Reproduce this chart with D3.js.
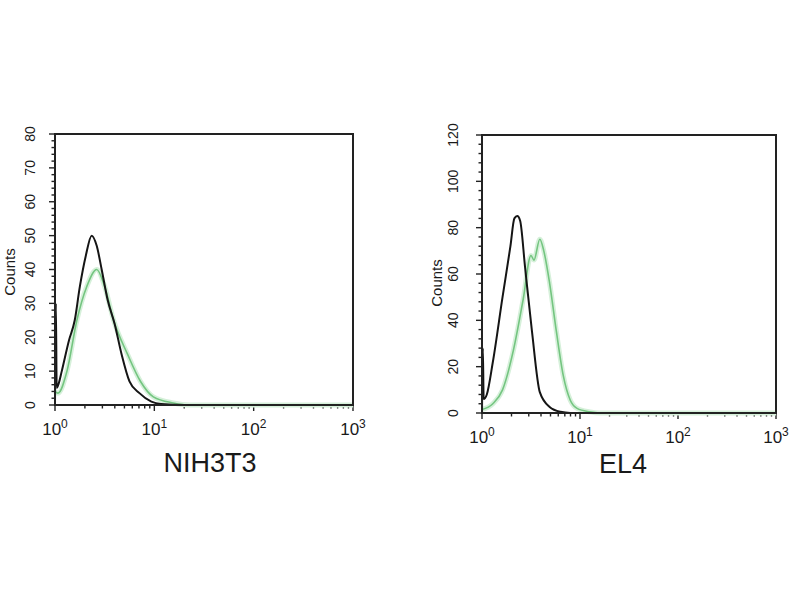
<!DOCTYPE html>
<html>
<head>
<meta charset="utf-8">
<script src="https://cdn.jsdelivr.net/npm/d3@7"></script>
<style>
  body { margin: 0; background: #fff; }
  svg { display: block; }
  text { font-family: "Liberation Sans", Arial, sans-serif; fill: #1a1a1a; }
</style>
</head>
<body>
<svg id="chart" width="800" height="600"></svg>
<script>
// ---- Data ----
const panelTitles = ["NIH3T3", "EL4"];
const xTickExponents = [0, 1, 2, 3];
const yMaxes = [80, 120];
const yTickSteps = [10, 20];
const yMinorSteps = [2, 4];

// NIH3T3 – isotype control (black)
const nihControlX = [1.0, 1.02, 1.04, 1.08, 1.17, 1.38, 1.58, 1.78, 2.04, 2.34, 2.63, 2.95, 3.39, 3.98, 4.68, 5.62, 7.08, 9.33, 11.7, 20, 1000];
const nihControlY = [0, 30, 5, 6, 10, 19, 25, 35, 44, 50, 47, 40, 31, 24, 15, 7, 3.5, 1, 0.3, 0, 0];
// NIH3T3 – antibody (green)
const nihStainX = [1.0, 1.07, 1.32, 1.66, 2.09, 2.63, 3.16, 3.89, 5.37, 7.24, 9.77, 15.5, 22.9, 1000];
const nihStainY = [4, 3.5, 10, 25, 35, 40, 35, 25, 15, 7, 2.4, 0.6, 0, 0];

// EL4 – isotype control (black)
const el4ControlX = [1.0, 1.02, 1.04, 1.12, 1.29, 1.62, 1.95, 2.14, 2.29, 2.45, 2.75, 3.24, 3.89, 4.9, 6.31, 7.94, 1000];
const el4ControlY = [0, 28, 6, 8, 22, 50, 72, 84, 85, 83, 63, 35, 9, 2.6, 0.5, 0, 0];
// EL4 – antibody (green)
const el4StainX = [1.0, 1.29, 1.62, 2.09, 2.63, 3.16, 3.39, 3.89, 4.27, 4.9, 5.75, 6.76, 7.94, 9.33, 12.6, 15.8, 1000];
const el4StainY = [1.5, 4, 10, 27, 49, 68, 66, 75, 70, 56, 35, 16, 5.6, 2, 0.5, 0, 0];

const panels = [
  { title: panelTitles[0], yMax: yMaxes[0], step: yTickSteps[0], minor: yMinorSteps[0],
    control: nihControlX.map((x, i) => [x, nihControlY[i]]),
    stain: nihStainX.map((x, i) => [x, nihStainY[i]]),
    box: { x0: 55, x1: 353, y0: 134, y1: 405 }, yLabelX: 30, countsX: 10, countsY: 272, titleX: 210, titleY: 472 },
  { title: panelTitles[1], yMax: yMaxes[1], step: yTickSteps[1], minor: yMinorSteps[1],
    control: el4ControlX.map((x, i) => [x, el4ControlY[i]]),
    stain: el4StainX.map((x, i) => [x, el4StainY[i]]),
    box: { x0: 482, x1: 776, y0: 135, y1: 413 }, yLabelX: 453, countsX: 437, countsY: 283, titleX: 623, titleY: 473 }
];

const svg = d3.select("#chart");

panels.forEach(p => {
  const b = p.box;
  const x = d3.scaleLog().domain([1, 1000]).range([b.x0, b.x1]);
  const y = d3.scaleLinear().domain([0, p.yMax]).range([b.y1, b.y0]);
  const g = svg.append("g");

  // y minor ticks
  const yMinor = d3.range(0, p.yMax + 0.001, p.minor);
  g.append("g").selectAll("line").data(yMinor).join("line")
    .attr("x1", b.x0).attr("x2", d => b.x0 - ((d % p.step === 0) ? 6 : 3.5))
    .attr("y1", d => y(d)).attr("y2", d => y(d))
    .attr("stroke", "#222").attr("stroke-width", 1.4);

  // y axis labels (rotated)
  const yTicks = d3.range(0, p.yMax + 0.001, p.step);
  g.append("g").selectAll("text").data(yTicks).join("text")
    .attr("transform", d => `translate(${p.yLabelX},${y(d)}) rotate(-90)`)
    .attr("text-anchor", "middle").attr("dy", "0.35em")
    .style("font-size", "14px")
    .text(d => d);

  // "Counts"
  g.append("text")
    .attr("transform", `translate(${p.countsX},${p.countsY}) rotate(-90)`)
    .attr("text-anchor", "middle").attr("dy", "0.35em")
    .style("font-size", "15px")
    .text("Counts");

  // x ticks (log, minor + major)
  const xMinor = [];
  for (let e = 0; e < 3; e++) for (let m = 1; m < 10; m++) xMinor.push(m * Math.pow(10, e));
  xMinor.push(1000);
  const isMajor = d => Math.abs(Math.log10(d) - Math.round(Math.log10(d))) < 1e-9;
  g.append("g").selectAll("line").data(xMinor).join("line")
    .attr("x1", d => x(d)).attr("x2", d => x(d))
    .attr("y1", b.y1).attr("y2", d => b.y1 + (isMajor(d) ? 6 : 3.5))
    .attr("stroke", "#222").attr("stroke-width", 1.4);

  // x tick labels 10^n
  const xl = g.append("g").selectAll("text").data(xTickExponents).join("text")
    .attr("x", d => x(Math.pow(10, d)))
    .attr("y", b.y1 + 30)
    .attr("text-anchor", "middle")
    .style("font-size", "17px");
  xl.append("tspan").text("10");
  xl.append("tspan").attr("dy", -7).style("font-size", "12px").text(d => d);

  // curves
  const line = d3.line().x(d => x(d[0])).y(d => y(d[1])).curve(d3.curveMonotoneX);
  g.append("path").attr("d", line(p.stain)).attr("fill", "none")
    .attr("stroke", "#d6f0da").attr("stroke-width", 5).attr("stroke-linejoin", "round");
  g.append("path").attr("d", line(p.stain)).attr("fill", "none")
    .attr("stroke", "#74c580").attr("stroke-width", 1.6).attr("stroke-linejoin", "round");
  g.append("path").attr("d", line(p.control)).attr("fill", "none")
    .attr("stroke", "#151515").attr("stroke-width", 2).attr("stroke-linejoin", "round");

  // frame
  g.append("rect").attr("x", b.x0).attr("y", b.y0)
    .attr("width", b.x1 - b.x0).attr("height", b.y1 - b.y0)
    .attr("fill", "none").attr("stroke", "#222").attr("stroke-width", 2);

  // title
  g.append("text").attr("x", p.titleX).attr("y", p.titleY)
    .attr("text-anchor", "middle").style("font-size", "27px")
    .text(p.title);
});
</script>
</body>
</html>
